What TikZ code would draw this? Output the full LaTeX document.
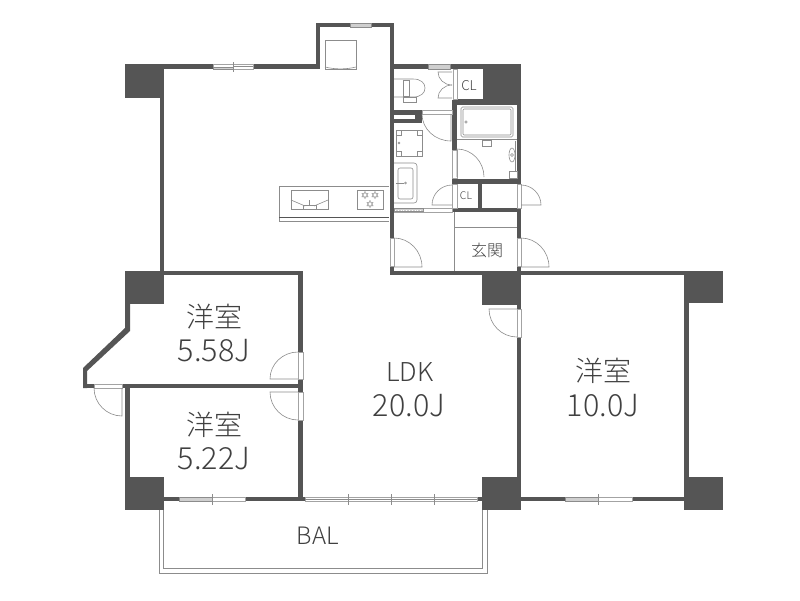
\documentclass[tikz,border=0pt]{standalone}
\usepackage{fontspec}
\usetikzlibrary{calc}
\newfontfamily\jpfont{Noto Sans CJK JP Light}
\definecolor{wallgray}{HTML}{555555}
\definecolor{linegray}{HTML}{8C8C8C}
\definecolor{glassgray}{HTML}{CFCFCF}
\definecolor{textgray}{HTML}{404040}
\tikzset{
  wall/.style={fill=wallgray, draw=none},
  frame/.style={fill=white, draw=linegray!80, line width=0.4pt},
  glass/.style={fill=glassgray, draw=linegray, line width=0.3pt},
  fixture/.style={draw=linegray, line width=0.6pt},
  bigtext/.style={text=textgray, font=\jpfont\fontsize{28}{28}\selectfont},
  sizetext/.style={text=textgray, font=\jpfont\fontsize{30.5}{30.5}\selectfont},
}
\begin{document}
\begin{tikzpicture}[x=1pt, y=-1pt]
        \useasboundingbox (0,0) rectangle (800,600);

        % Balcony
        \draw[fixture] (159,510) -- (159,573) -- (487,573) -- (487,510);
        \draw[fixture] (163,501) -- (163,568) -- (482,568) -- (482,501);

        % Walls
        \foreach \xa/\ya/\xb/\yb in {
            125/64/164/98, 164/64/213/69, 253/64/320/69, 316/23/320/69,
            316/23/350/27, 371/23/394/27, 390/23/394/238, 390/266/394/275,
            394/64/428/69, 450/64/521/69, 483/64/521/105, 453/99/521/105,
            517/105/521/184, 452/100/457/150, 452/179/521/184, 452/208/521/212,
            478/183/482/208, 517/212/521/238, 517/266/521/275, 394/110/422/123,
            390/271/521/275, 482/271/521/305, 521/271/684/275, 684/271/723/303,
            684/303/689/477, 684/477/723/510, 517/305/521/309, 517/337/521/477,
            482/477/521/510, 521/497/565/501, 632/497/684/501, 125/271/303/275,
            125/271/164/304, 160/98/164/271, 298/275/303/352, 298/379/303/392,
            298/420/303/501, 83/384/94/388, 122/384/303/388, 125/388/130/477,
            125/477/164/510, 164/497/179/501, 245/497/305/501, 477/497/482/501}
          \fill[wall] (\xa,\ya) rectangle (\xb,\yb);
        \fill[wall] (125,304) -- (125,328) -- (83,368) -- (83,388) -- (87,388)
          -- (87,371) -- (130,331) -- (130,304) -- cycle;
        \fill[white] (394,115) rectangle (415,119);

        % Door frames
        \foreach \xa/\ya/\xb/\yb in {
            453/69/457/99, 422/110/452/114, 452/150/457/178, 452/184/457/208,
            517/184/521/208, 390/238/394/266, 517/238/521/266, 517/309/521/337,
            298/352/303/379, 298/392/303/420, 94/384/122/388}
          \draw[frame] (\xa,\ya) rectangle (\xb,\yb);

        % Door leaves
        \foreach \cx/\cy/\ax/\ay/\bx/\by in {
            452/72/438/72/452/85, 452/98/438/98/452/85, 451/114/451/141/422/114,
            457/177/457/149/484/177, 452/205/432/205/452/185, 521/205/541/205/521/185,
            394/267/422/267/394/238, 521/267/549/267/521/238, 517/309/489/309/517/337,
            298/379/270/379/298/352, 298/392/270/392/298/420, 122/388/122/416/94/388}
        {
          \coordinate (K) at (\ax+\bx-\cx,\ay+\by-\cy);
          \draw[fixture] (\cx,\cy) -- (\ax,\ay)
            .. controls ($(\ax,\ay)!.55!(K)$) and ($(\bx,\by)!.55!(K)$) .. (\bx,\by);
        }

        % Windows
        \fill[glass] (350,23) rectangle (371,27);
        \fill[glass] (428,64) rectangle (450,69);
        \draw[frame] (213,64) rectangle (253,69);
        \draw[frame] (179,497) rectangle (245,501);
        \draw[frame] (305,497) rectangle (477,501);
        \draw[frame] (565,497) rectangle (632,501);
        \fill[glass] (213,67) rectangle (233,69);
        \fill[glass] (179,497) rectangle (212,501);
        \fill[glass] (565,497) rectangle (598,501);
        \draw[fixture, line width=0.4pt] (233,62) -- (233,72);
        \foreach \tx in {212,348,391,434,598}
          \draw[fixture, line width=0.4pt] (\tx,494) -- (\tx,505);
        \draw[fixture, line width=0.4pt] (305,499) -- (477,499);
        \draw[fixture, line width=0.4pt] (233,66.5) -- (253,66.5);

        % Kitchen strip
        \draw[frame] (394,208) rectangle (452,212);
        \fill[glass] (394,208.5) rectangle (423,211.5);
        \draw[white, dotted, line width=0.8pt] (395,210) -- (423,210);

        % Counter, sink, hob
        \draw[fixture] (389,186) -- (279,186) -- (279,221) -- (389,221);
        \draw[wallgray, line width=1pt] (279,217) -- (389,217);
        \draw[fixture] (291,190) rectangle (328,209);
        \draw[fixture] (291,200) -- (305,206) (314,206) -- (328,200);
        \draw[fixture] (303,209) rectangle (316,205);
        \draw[fixture] (309,206) -- (309,200);
        \draw[fixture] (357,190) rectangle (383,209);
        \foreach \sx/\sy in {365/195, 375/195, 370/204} {
          \draw[fixture, line width=0.4pt] (\sx,\sy) ++(0,-3.6) -- ++(3.1,5.4) -- ++(-6.2,0) -- cycle;
          \draw[fixture, line width=0.4pt] (\sx,\sy) ++(0,3.6) -- ++(3.1,-5.4) -- ++(-6.2,0) -- cycle;
        }

        % Fridge
        \draw[fixture] (325,40) rectangle (356,69);
        \draw[fixture] (325,67) .. controls (335,69.5) and (346,69.5) .. (356,67);

        % Toilet
        \draw[fixture] (394,79) -- (413,79) .. controls (421,79) and (425,83) .. (425,88)
          .. controls (425,93) and (421,97) .. (413,97) -- (394,97);
        \draw[fixture] (403,80) rectangle (409,96);
        \draw[fixture] (403,97) rectangle (416,102);

        % Bath
        \draw[fixture] (457,139) -- (517,139);
        \draw[fixture, rounded corners=1.5pt] (461,107) rectangle (513,137);
        \draw[fixture, rounded corners=1pt] (463,109) rectangle (511,135);
        \draw[fixture] (466,122) circle (1.2);
        \draw[fixture] (482,140) rectangle (491,146);
        \draw[fixture] (515,141) -- (515,171);
        \draw[fixture] (512,155) ellipse (3 and 7);
        \draw[fixture] (512,155) circle (1.5);
        \draw[fixture] (509,171) rectangle (517,178);

        % Washer
        \draw[fixture] (396,130) rectangle (422,156);
        \foreach \qx/\qy in {396/130, 417/130, 396/151, 417/151}
          \draw[fixture] (\qx,\qy) rectangle ++(5,5);
        \draw[fixture] (399,143) circle (1);

        % Basin
        \draw[fixture, rounded corners=3pt] (394,163) -- (417,163) -- (417,203) -- (394,203);
        \draw[fixture, rounded corners=2pt] (398,168) rectangle (413,199);
        \draw[fixture] (396,183) -- (404,183);
        \draw[fixture] (405.5,183) circle (1);

        % Entrance
        \draw[fixture] (454,212) -- (454,271);
        \draw[fixture] (454,227) -- (517,227);

        % Labels
        \node[bigtext] (RA) at (214,317) {洋室};
        \node[sizetext] (RAsize) at (214,351) {5.58J};
        \node[bigtext] (RB) at (214,425) {洋室};
        \node[sizetext] (RBsize) at (214,459) {5.22J};
        \node[bigtext] (RC) at (603,371) {洋室};
        \node[sizetext] (RCsize) at (603,406) {10.0J};
        \node[bigtext, font=\jpfont\fontsize{26}{26}\selectfont] (LDK) at (410,372) {LDK};
        \node[sizetext] (LDKsize) at (409,406) {20.0J};
        \node[bigtext, font=\jpfont\fontsize{24}{24}\selectfont] (BAL) at (318,536) {BAL};
        \node[bigtext, font=\jpfont\fontsize{16}{16}\selectfont] (EN) at (487,250) {玄関};
        \node[bigtext, font=\jpfont\fontsize{13.5}{13.5}\selectfont] (CLA) at (469,86) {CL};
        \node[bigtext, font=\jpfont\fontsize{10.5}{10.5}\selectfont] (CLB) at (466,196) {CL};
\end{tikzpicture}
\end{document}
